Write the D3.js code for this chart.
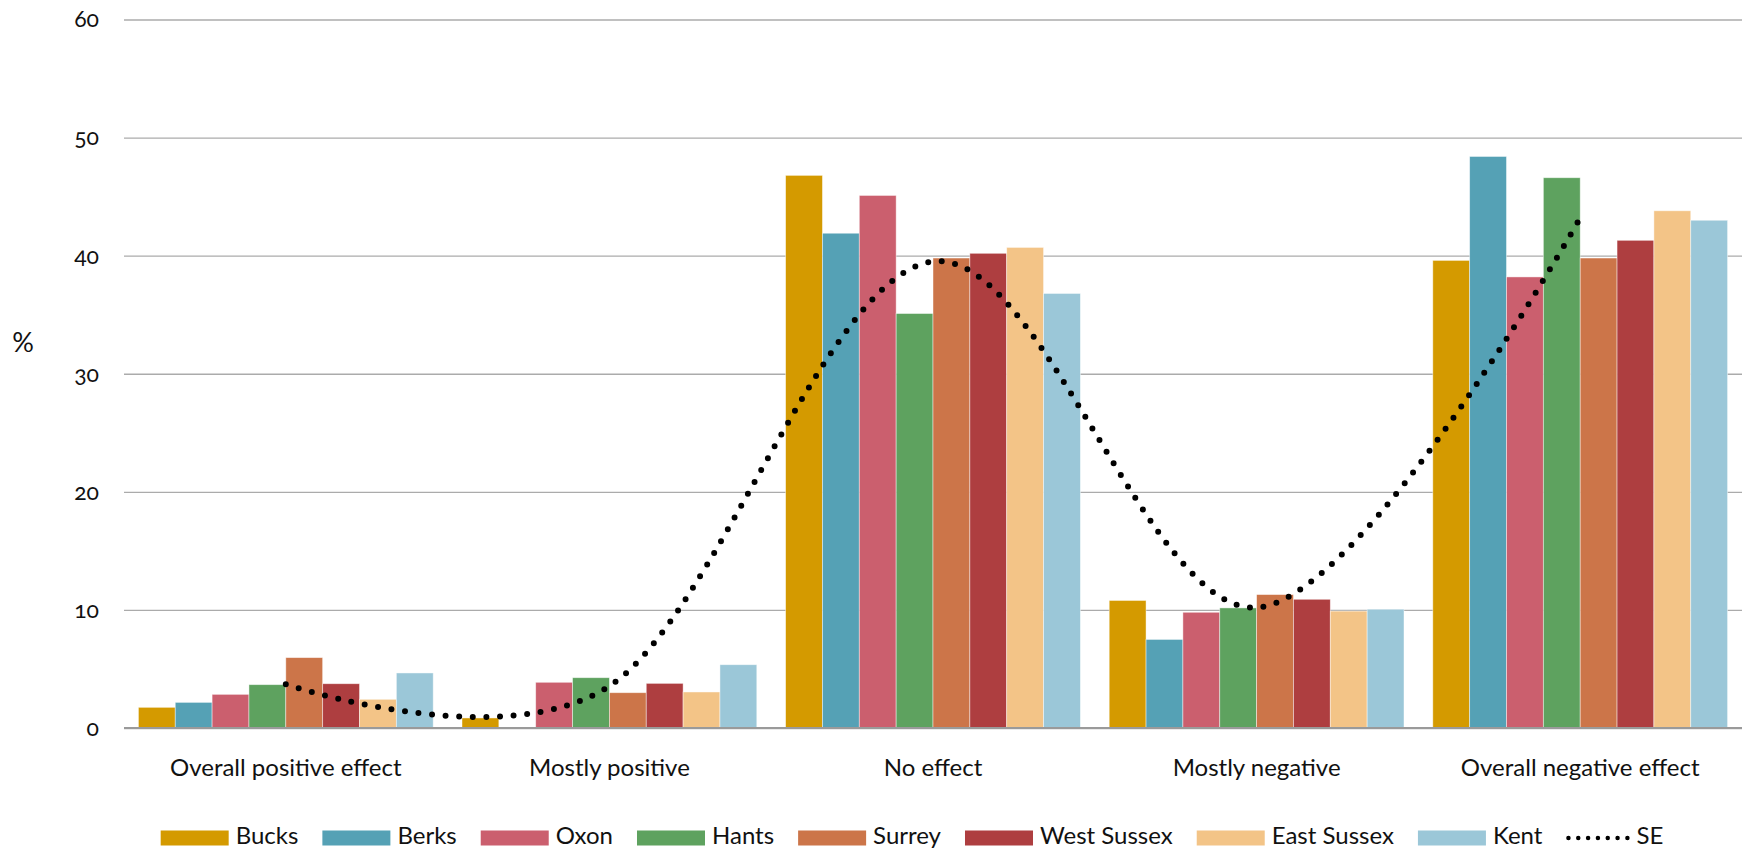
<!DOCTYPE html>
<html>
<head>
<meta charset="utf-8">
<script src="https://cdn.jsdelivr.net/npm/d3@7"></script>
<style>
  html, body { margin: 0; padding: 0; background: #fff; }
  svg { display: block; }
  text { font-family: "Lato", "Open Sans", sans-serif; fill: #111; font-variant-numeric: oldstyle-nums; }
</style>
</head>
<body>
<svg id="chart" width="1746" height="852"></svg>
<script>
const categories = ["Overall positive effect", "Mostly positive", "No effect", "Mostly negative", "Overall negative effect"];
const seriesNames = ["Bucks", "Berks", "Oxon", "Hants", "Surrey", "West Sussex", "East Sussex", "Kent"];
const bucks      = [1.75, 0.85, 46.8, 10.8, 39.6];
const berks      = [2.17, 0,    41.9, 7.5,  48.4];
const oxon       = [2.85, 3.87, 45.1, 9.8,  38.2];
const hants      = [3.67, 4.26, 35.1, 10.17, 46.6];
const surrey     = [5.96, 2.99, 39.8, 11.3, 39.8];
const westSussex = [3.75, 3.78, 40.2, 10.9, 41.3];
const eastSussex = [2.43, 3.05, 40.7, 9.9,  43.8];
const kent       = [4.66, 5.36, 36.8, 10.06, 43.0];
const se         = [3.7, 3.55, 39.5, 10.2, 43.2];
const yTicks = [0, 10, 20, 30, 40, 50, 60];
const colors = ["#D49A00", "#55A1B5", "#CB5F6E", "#5EA25F", "#CC7549", "#AE3E40", "#F3C487", "#9BC7D8"];

const seriesValues = [bucks, berks, oxon, hants, surrey, westSussex, eastSussex, kent];

const svg = d3.select("#chart");
const plotLeft = 124, plotRight = 1742, plotTop = 19.5, plotBottom = 728;

const x0 = d3.scaleBand().domain(categories).range([plotLeft, plotRight]).paddingInner(0.089).paddingOuter(0.0445);
const x1 = d3.scaleBand().domain(seriesNames).range([0, x0.bandwidth()]).padding(0);
const y = d3.scaleLinear().domain([0, 60]).range([plotBottom, plotTop]);

// gridlines
const yAxis = d3.axisLeft(y).tickValues(yTicks).tickSize(-(plotRight - plotLeft)).tickPadding(25).tickFormat(d3.format("d"));
const gAxis = svg.append("g").attr("transform", `translate(${plotLeft},0)`).call(yAxis);
gAxis.select(".domain").remove();
gAxis.selectAll(".tick line").attr("stroke", "#ababab").attr("stroke-width", 1.3);
gAxis.selectAll(".tick text").attr("font-size", 23).attr("fill", "#111")
  .style("font-family", "Lato, 'Open Sans', sans-serif");

// % label
svg.append("text").attr("x", 23).attr("y", 345).attr("text-anchor", "middle").attr("dominant-baseline", "middle")
  .attr("font-size", 27).text("%");

// bars
const groups = svg.append("g").selectAll("g").data(categories).join("g")
  .attr("transform", d => `translate(${x0(d)},0)`);
groups.selectAll("rect").data((c, ci) => seriesNames.map((s, si) => ({ s, si, v: seriesValues[si][ci] })))
  .join("rect")
  .attr("x", d => x1(d.s))
  .attr("width", x1.bandwidth())
  .attr("y", d => y(d.v))
  .attr("height", d => y(0) - y(d.v))
  .attr("fill", d => colors[d.si])
  .attr("stroke", "rgba(255,255,255,0.55)")
  .attr("stroke-width", 0.8);

// baseline redraw on top
svg.append("line").attr("x1", plotLeft).attr("x2", plotRight).attr("y1", y(0)).attr("y2", y(0))
  .attr("stroke", "#9a9a9a").attr("stroke-width", 2);

// category labels
svg.append("g").selectAll("text").data(categories).join("text")
  .attr("x", d => x0(d) + x0.bandwidth() / 2)
  .attr("y", 776)
  .attr("text-anchor", "middle")
  .attr("font-size", 24)
  .text(d => d);

// SE line
const line = d3.line()
  .x((d, i) => x0(categories[i]) + x0.bandwidth() / 2)
  .y(d => y(d))
  .curve(d3.curveCardinal.tension(0));
svg.append("path").datum(se).attr("d", line)
  .attr("fill", "none").attr("stroke", "#000").attr("stroke-width", 6)
  .attr("stroke-linecap", "round").attr("stroke-dasharray", "0 13.6");

// legend
const legend = svg.append("g");
const items = seriesNames.map((s, i) => ({ name: s, type: "rect", color: colors[i] }));
items.push({ name: "SE", type: "line" });
let cx = 0;
const legendY = 838;
items.forEach(it => {
  const g = legend.append("g").attr("transform", `translate(${cx},0)`);
  let w;
  if (it.type === "rect") {
    g.append("rect").attr("x", 0).attr("y", legendY - 7.5).attr("width", 68).attr("height", 15).attr("fill", it.color);
    w = 68;
  } else {
    g.append("line").attr("x1", 2).attr("x2", 61).attr("y1", legendY).attr("y2", legendY)
      .attr("stroke", "#000").attr("stroke-width", 4.5).attr("stroke-linecap", "round").attr("stroke-dasharray", "0 9.83");
    w = 63;
  }
  const t = g.append("text").attr("x", w + 7).attr("y", legendY).attr("dominant-baseline", "middle")
    .attr("font-size", 24).text(it.name);
  const tw = t.node().getComputedTextLength();
  cx += w + 7 + tw + 24;
});
const totalW = cx - 24;
legend.attr("transform", `translate(${912 - totalW / 2},0)`);
</script>
</body>
</html>
